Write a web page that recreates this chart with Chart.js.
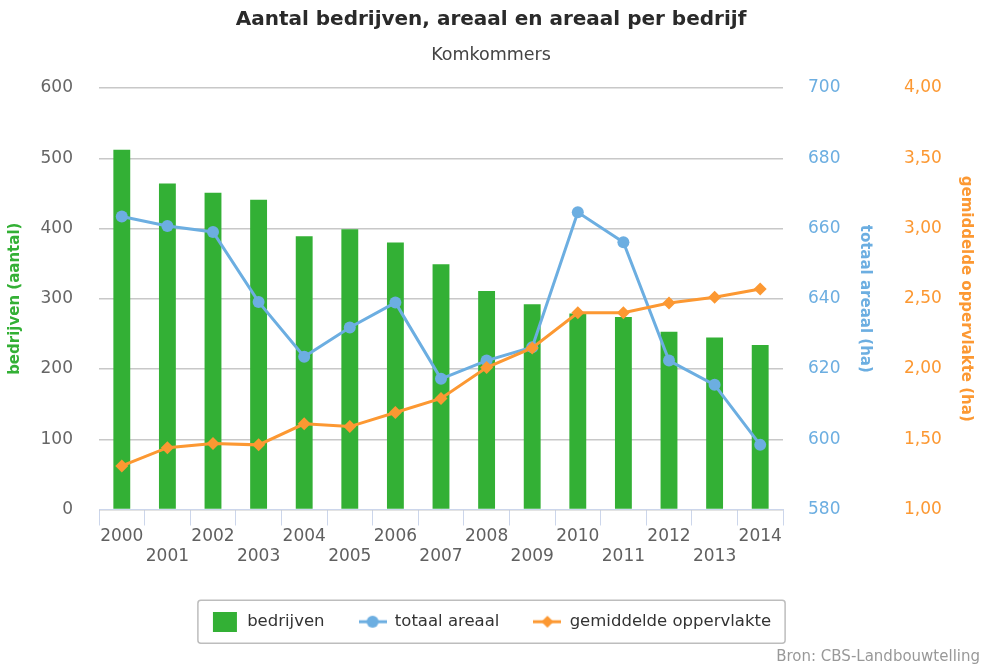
<!DOCTYPE html>
<html>
<head>
<meta charset="utf-8">
<script src="https://cdn.jsdelivr.net/npm/chart.js@4"></script>
<style>
  html, body { margin: 0; padding: 0; background: #fff; }
  #wrap { width: 982px; height: 669px; }
</style>
</head>
<body>
<div id="wrap"><canvas id="chart" width="982" height="669"></canvas></div>
<script>
const years = ['2000', '2001', '2002', '2003', '2004', '2005', '2006', '2007',
  '2008', '2009', '2010', '2011', '2012', '2013', '2014'];
const bedrijven = [512, 464, 451, 441, 389, 399, 380, 349, 311, 292, 279, 274, 253, 245, 234];
const totaalAreaal = [663.4, 660.7, 659, 639.1, 623.5, 631.8, 638.9, 617.2,
  622.4, 626.2, 664.6, 656.1, 622.4, 615.5, 598.4];
const gemOppervlakte = [1.31, 1.44, 1.47, 1.46, 1.61, 1.59, 1.69, 1.79,
  2.01, 2.15, 2.40, 2.40, 2.47, 2.51, 2.57];

const GREEN = '#33b035';
const BLUE = '#6caee1';
const ORANGE = '#fc9832';

Chart.defaults.font.family = "'DejaVu Sans', Verdana, sans-serif";

// small legend symbols: square, line+circle, line+diamond
function symbol(kind) {
  const c = document.createElement('canvas');
  c.width = 28; c.height = 20;
  const g = c.getContext('2d');
  if (kind === 'bar') {
    g.fillStyle = GREEN;
    g.fillRect(2, 0, 24, 20);
    return c;
  }
  const col = kind === 'circle' ? BLUE : ORANGE;
  g.strokeStyle = col; g.lineWidth = 3;
  g.beginPath(); g.moveTo(0, 10); g.lineTo(28, 10); g.stroke();
  g.fillStyle = col;
  g.beginPath();
  if (kind === 'circle') {
    g.arc(14, 10, 6, 0, Math.PI * 2);
  } else {
    g.moveTo(14, 4); g.lineTo(20, 10); g.lineTo(14, 16); g.lineTo(8, 10); g.closePath();
  }
  g.fill();
  return c;
}
const symbols = [symbol('bar'), symbol('circle'), symbol('diamond')];

const extras = {
  id: 'extras',
  afterDraw(chart) {
    const ctx = chart.ctx;
    const hb = chart.legend.legendHitBoxes;
    if (hb && hb.length) {
      const l = hb[0].left - 13;
      const r = hb[hb.length - 1].left + hb[hb.length - 1].width + 14;
      const cy = hb[0].top + hb[0].height / 2;
      ctx.save();
      ctx.strokeStyle = '#bdbdbd';
      ctx.lineWidth = 1.5;
      ctx.beginPath();
      ctx.roundRect(l, cy - 21.5, r - l, 43, 3);
      ctx.stroke();
      ctx.restore();
    }
    ctx.save();
    ctx.font = "15px 'DejaVu Sans'";
    ctx.fillStyle = '#999999';
    ctx.textAlign = 'right';
    ctx.textBaseline = 'middle';
    ctx.fillText('Bron: CBS-Landbouwtelling', 980, 657);
    ctx.restore();
  }
};

new Chart(document.getElementById('chart'), {
  data: {
    labels: years,
    datasets: [
      {
        type: 'bar', label: 'bedrijven', data: bedrijven, yAxisID: 'y',
        backgroundColor: GREEN, barPercentage: 0.37, categoryPercentage: 1, order: 3
      },
      {
        type: 'line', label: 'totaal areaal', data: totaalAreaal, yAxisID: 'y1',
        borderColor: BLUE, backgroundColor: BLUE, borderWidth: 3,
        pointRadius: 6, pointStyle: 'circle', pointBorderWidth: 0, order: 2
      },
      {
        type: 'line', label: 'gemiddelde oppervlakte', data: gemOppervlakte, yAxisID: 'y2',
        borderColor: ORANGE, backgroundColor: ORANGE, borderWidth: 3,
        pointRadius: 6.5, pointStyle: 'rectRot', pointBorderWidth: 0, order: 1
      }
    ]
  },
  options: {
    responsive: false,
    animation: false,
    layout: { padding: { top: 0, bottom: 29, left: 0, right: 0 } },
    plugins: {
      title: {
        display: true,
        text: 'Aantal bedrijven, areaal en areaal per bedrijf',
        color: '#2a2a2a',
        font: { size: 20, weight: 'bold' },
        padding: { top: 8, bottom: 6 }
      },
      subtitle: {
        display: true,
        text: 'Komkommers',
        color: '#444444',
        font: { size: 17.5 },
        padding: { top: 7, bottom: 22 }
      },
      legend: {
        position: 'bottom',
        labels: {
          usePointStyle: true,
          pointStyleWidth: 28,
          padding: 34,
          color: '#333333',
          font: { size: 16.5 },
          generateLabels(chart) {
            return chart.data.datasets.map((ds, i) => ({
              text: ds.label,
              pointStyle: symbols[i],
              fontColor: '#333333',
              datasetIndex: i,
              hidden: false,
              lineWidth: 0
            }));
          }
        }
      },
      tooltip: { enabled: false }
    },
    scales: {
      x: {
        grid: { display: true, drawOnChartArea: false, offset: true, tickLength: 16, color: '#ccd6eb' },
        border: { color: '#ccd6eb', width: 1 },
        ticks: {
          autoSkip: false, maxRotation: 0, padding: 1,
          color: '#606060', font: { size: 17, lineHeight: 1.18 },
          callback(v, i) { return i % 2 === 0 ? [years[i]] : ['', years[i]]; }
        },
        afterFit(s) { s.height = 70; }
      },
      y: {
        position: 'left', min: 0, max: 600,
        grid: { color: '#c8c8c8', lineWidth: 1.5, drawTicks: false },
        border: { display: false },
        ticks: { stepSize: 100, padding: 26, color: '#666666', font: { size: 17 } },
        title: {
          display: true, text: 'bedrijven (aantal)', color: GREEN,
          font: { size: 15, weight: 'bold' }, padding: { top: 6, bottom: 0 }
        },
        afterFit(s) { s.width = 99; }
      },
      y1: {
        position: 'right', min: 580, max: 700, weight: 0,
        grid: { display: false, drawTicks: false },
        border: { display: false },
        ticks: { stepSize: 20, padding: 25, color: BLUE, font: { size: 17 } },
        title: {
          display: true, text: 'totaal areaal (ha)', color: BLUE,
          font: { size: 15, weight: 'bold' }, padding: { top: 2, bottom: 0 }
        },
        afterFit(s) { s.width = 93; }
      },
      y2: {
        position: 'right', min: 1, max: 4, weight: 1,
        grid: { display: false, drawTicks: false },
        border: { display: false },
        ticks: {
          stepSize: 0.5, padding: 28, color: ORANGE, font: { size: 17 },
          callback(v) { return v.toFixed(2).replace('.', ','); }
        },
        title: {
          display: true, text: 'gemiddelde oppervlakte (ha)', color: ORANGE,
          font: { size: 15, weight: 'bold' }, padding: { top: 7, bottom: 0 }
        },
        afterFit(s) { s.width = 106; }
      }
    }
  },
  plugins: [extras]
});
</script>
</body>
</html>
